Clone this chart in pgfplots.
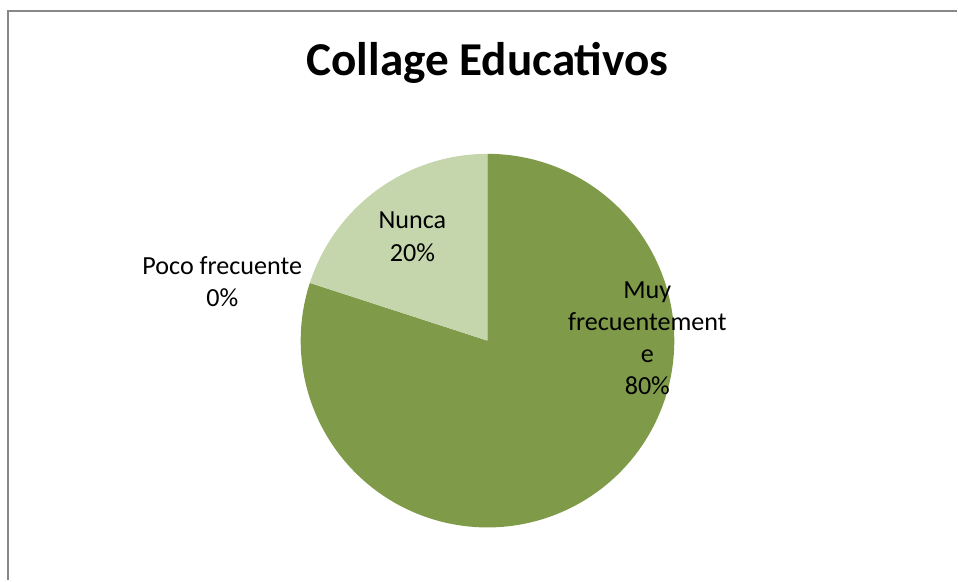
\documentclass[border=0pt]{standalone}
\usepackage{fontspec}
\setmainfont{Carlito}
\usepackage{pgfplots}
\usepackage{pgfplotstable}
\pgfplotsset{compat=1.18}
\definecolor{darkgreen}{HTML}{7F9B4A}
\definecolor{lightgreen}{HTML}{C5D6AC}
\definecolor{framegray}{HTML}{888888}

\pgfplotstableread{
label value
MuyFrecuentemente 80
PocoFrecuente 0
Nunca 20
}\piedata

\begin{document}
\begin{tikzpicture}
\pgfplotstablegetelem{0}{value}\of\piedata \let\va\pgfplotsretval
\pgfplotstablegetelem{1}{value}\of\piedata \let\vb\pgfplotsretval
\pgfplotstablegetelem{2}{value}\of\piedata \let\vc\pgfplotsretval
\pgfmathsetmacro\aA{90}
\pgfmathsetmacro\aB{\aA-3.6*\va}
\pgfmathsetmacro\aC{\aB-3.6*\vb}
\pgfmathsetmacro\aD{\aC-3.6*\vc}
\def\cx{488}\def\cy{240}\def\rr{187}
\begin{axis}[
  x=0.75pt, y=0.75pt,
  xmin=0, xmax=958, ymin=0, ymax=581,
  scale only axis, hide axis, clip=false,
  anchor=south west, at={(0,0)},
]
\path (rel axis cs:0,0) rectangle (rel axis cs:1,1);
\draw[framegray, line width=1.5pt] (axis cs:8,0) -- (axis cs:8,569.5) -- (axis cs:958,569.5);
% slice 1: Muy frecuentemente
\addplot[fill=darkgreen, draw=none, domain=\aB:\aA, samples=200, variable=\t]
  ({\cx+\rr*cos(\t)},{\cy+\rr*sin(\t)}) -- (axis cs:\cx,\cy) -- cycle;
% slice 2: Poco frecuente (0%) -- nothing to draw
% slice 3: Nunca
\addplot[fill=lightgreen, draw=none, domain=\aD:\aC, samples=60, variable=\t]
  ({\cx+\rr*cos(\t)},{\cy+\rr*sin(\t)}) -- (axis cs:\cx,\cy) -- cycle;
% title
\node[anchor=base, font=\fontsize{35.4}{42}\selectfont\bfseries] at (axis cs:488,505) {Collage Educativos};
% labels
\begin{scope}[every node/.style={anchor=base, inner sep=0pt, font=\fontsize{19.6}{23.85}\selectfont}]
\node at (axis cs:648,281.7) {Muy};
\node at (axis cs:648,249.9) {frecuentement};
\node at (axis cs:648,218.1) {e};
\node at (axis cs:648,186.3) {80\%};
\node at (axis cs:412.8,352) {Nunca};
\node at (axis cs:412.8,319.5) {20\%};
\node at (axis cs:222.5,306) {Poco frecuente};
\node at (axis cs:222.5,274.2) {0\%};
\end{scope}
\end{axis}
\end{tikzpicture}
\end{document}
